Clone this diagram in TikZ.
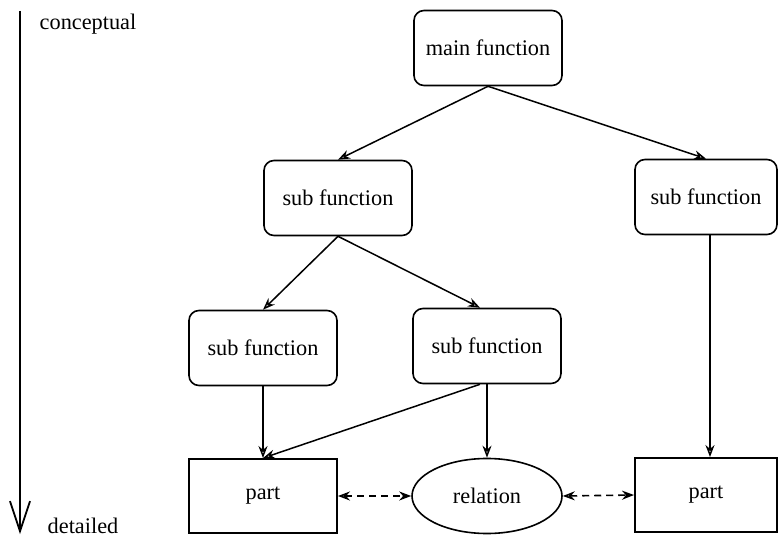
\documentclass[tikz,border=0pt]{standalone}
\usepackage{fontspec}
\setmainfont{Liberation Serif}
\usetikzlibrary{arrows.meta,shapes.geometric}
\begin{document}
\begin{tikzpicture}[x=1pt,y=-1pt, font=\fontsize{22.3}{26}\selectfont,
 fbox/.style={draw, rounded corners=10pt, line width=1.6pt, minimum width=148pt, minimum height=75pt, inner sep=0pt},
 pbox/.style={draw, line width=1.9pt, minimum width=148pt, minimum height=74pt, inner sep=0pt},
 rel/.style={draw, ellipse, line width=1.6pt, minimum width=150pt, minimum height=75pt, inner sep=0pt},
 conn/.style={line width=1.5pt, -{Stealth[open,length=12pt,width=9pt]}},
 dconn/.style={line width=1.6pt, dash pattern=on 7pt off 5pt, {Stealth[open,length=12pt,width=9pt]}-{Stealth[length=12pt,width=9pt]}},
 axis/.style={line width=1.8pt, -{Straight Barb[length=30pt,width=20pt,line width=1.8pt]}},
 lbl/.style={inner sep=0pt}]
\useasboundingbox (0,0) rectangle (779,537);

\node[fbox] (main) at (488,48) {main function};
\node[fbox] (subL) at (338,198) {sub function};
\node[fbox, minimum width=142pt] (subR) at (706,197) {sub function};
\node[fbox] (subLL) at (263,348) {sub function};
\node[fbox] (subLM) at (487,346) {sub function};
\node[pbox] (partL) at (263,496) {part};
\node[rel] (rel) at (487,496) {relation};
\node[pbox, minimum width=142pt] (partR) at (706,495) {part};

\coordinate (axtop) at (20,11);
\coordinate (axbot) at (20,534);
\draw[axis] (axtop) -- (axbot);
\node[lbl] (concept) at (88,24) {conceptual};
\node[lbl] (detail) at (83,526) {detailed};

\draw[conn] (main.south) -- (subL.north);
\draw[conn] (main.south) -- (subR.north);
\draw[conn] (subL.south) -- (subLL.north);
\draw[conn] (subL.south) -- ([xshift=-7pt]subLM.north);
\draw[conn] (subLL.south) -- (partL.north);
\draw[conn] ([xshift=-7pt]subLM.south) -- (partL.north);
\draw[conn] (subLM.south) -- (rel.north);
\draw[conn] ([xshift=4pt]subR.south) -- ([xshift=4pt]partR.north);

\draw[dconn] (partL.east) -- (rel.west);
\draw[dconn] (rel.east) -- (partR.west);
\end{tikzpicture}
\end{document}
